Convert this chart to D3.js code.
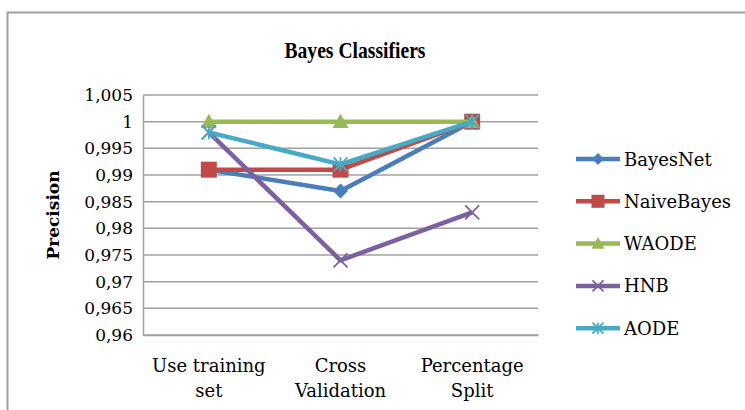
<!DOCTYPE html>
<html>
<head>
<meta charset="utf-8">
<script src="https://cdn.jsdelivr.net/npm/d3@7"></script>
<style>
  html, body { margin: 0; padding: 0; background: #fff; }
  svg { display: block; }
</style>
</head>
<body>
<svg id="chart" width="745" height="410"></svg>
<script>
// Precision of Bayes classifiers under three test modes
const categories = [["Use training", "set"], ["Cross", "Validation"], ["Percentage", "Split"]];
const seriesNames = ["BayesNet", "NaiveBayes", "WAODE", "HNB", "AODE"];
const bayesNet   = [0.991, 0.987, 1.000];
const naiveBayes = [0.991, 0.991, 1.000];
const waode      = [1.000, 1.000, 1.000];
const hnb        = [0.998, 0.974, 0.983];
const aode       = [0.998, 0.992, 1.000];
const yTicks = [0.96, 0.965, 0.97, 0.975, 0.98, 0.985, 0.99, 0.995, 1, 1.005];

const seriesValues = [bayesNet, naiveBayes, waode, hnb, aode];
const colors  = ["#4A7EBB", "#BE4B48", "#98B954", "#7D60A0", "#46AAC5"];
const symbols = ["diamond", "square", "triangle", "x", "star"];

const svg = d3.select("#chart");
const plot = { left: 143, right: 538, top: 95, bottom: 335 };
const serif = "'DejaVu Serif', serif";

// chart frame
svg.append("rect")
  .attr("x", 7.5).attr("y", 12.5).attr("width", 800).attr("height", 500)
  .attr("fill", "none").attr("stroke", "#A0A0A0").attr("stroke-width", 2);

// title
svg.append("text")
  .attr("x", 355).attr("y", 58)
  .attr("text-anchor", "middle")
  .attr("font-family", "'Liberation Serif', serif")
  .attr("font-weight", "bold")
  .attr("font-size", 24)
  .attr("textLength", 141)
  .attr("lengthAdjust", "spacingAndGlyphs")
  .attr("fill", "#000")
  .text("Bayes Classifiers");

const x = d3.scaleBand().domain(d3.range(categories.length))
  .range([plot.left, plot.right]);
const y = d3.scaleLinear().domain([0.96, 1.005]).range([plot.bottom, plot.top]);

// horizontal gridlines
svg.append("g").selectAll("line").data(yTicks).join("line")
  .attr("x1", plot.left).attr("x2", plot.right)
  .attr("y1", d => y(d)).attr("y2", d => y(d))
  .attr("stroke", "#A0A0A0").attr("stroke-width", 1.5);

// y axis
const fmt = d => d3.format("")(+d.toFixed(3)).replace(".", ",");
const yAxis = svg.append("g")
  .attr("transform", `translate(${plot.left},0)`)
  .call(d3.axisLeft(y).tickValues(yTicks).tickSize(0).tickPadding(10).tickFormat(fmt));
yAxis.select(".domain").attr("stroke", "#A0A0A0").attr("stroke-width", 1.5);
yAxis.selectAll("text")
  .attr("font-family", serif).attr("font-size", 17).attr("fill", "#000");

// x axis
const xAxis = svg.append("g")
  .attr("transform", `translate(0,${plot.bottom})`)
  .call(d3.axisBottom(x).tickSize(0).tickFormat(() => ""));
xAxis.select(".domain").attr("stroke", "#A0A0A0").attr("stroke-width", 1.5);
xAxis.selectAll(".tick text").each(function(d) {
  const t = d3.select(this)
    .attr("font-family", serif).attr("font-size", 18).attr("fill", "#000")
    .attr("y", 0).attr("dy", null);
  categories[d].forEach((line, i) => {
    t.append("tspan").attr("x", 0).attr("y", 37 + i * 25).text(line);
  });
});

// y axis title
svg.append("text")
  .attr("transform", "translate(59,215) rotate(-90)")
  .attr("text-anchor", "middle")
  .attr("font-family", serif).attr("font-weight", "bold").attr("font-size", 17)
  .attr("fill", "#000")
  .text("Precision");

// marker shapes
function marker(sel, type, color, size) {
  const s = size / 2;
  if (type === "diamond") {
    sel.append("path").attr("d", `M0,${-s}L${s},0L0,${s}L${-s},0Z`).attr("fill", color);
  } else if (type === "square") {
    sel.append("rect").attr("x", -s).attr("y", -s).attr("width", size).attr("height", size).attr("fill", color);
  } else if (type === "triangle") {
    sel.append("path").attr("d", `M0,${-s}L${s},${s * 0.8}L${-s},${s * 0.8}Z`).attr("fill", color);
  } else if (type === "x") {
    sel.append("path").attr("d", `M${-s},${-s}L${s},${s}M${s},${-s}L${-s},${s}`)
      .attr("stroke", color).attr("stroke-width", 1.8).attr("fill", "none");
  } else if (type === "star") {
    sel.append("path")
      .attr("d", `M${-s},${-s}L${s},${s}M${s},${-s}L${-s},${s}M0,${-s}L0,${s}`)
      .attr("stroke", color).attr("stroke-width", 1.8).attr("fill", "none");
  }
}

const line = d3.line().x((d, i) => x(i) + x.bandwidth() / 2).y(d => y(d));
const sizes = [15, 16, 16, 14, 14];

seriesValues.forEach((vals, k) => {
  const g = svg.append("g");
  g.append("path").datum(vals).attr("d", line)
    .attr("fill", "none").attr("stroke", colors[k]).attr("stroke-width", 4.5)
    .attr("stroke-linejoin", "round");
  g.selectAll("g.pt").data(vals).join("g").attr("class", "pt")
    .attr("transform", (d, i) => `translate(${x(i) + x.bandwidth() / 2},${y(d)})`)
    .each(function() { marker(d3.select(this), symbols[k], colors[k], sizes[k]); });
});

// legend
const legend = svg.append("g");
seriesNames.forEach((name, k) => {
  const ly = 159 + k * 42.3;
  const row = legend.append("g").attr("transform", `translate(576,${ly})`);
  row.append("line").attr("x1", 0).attr("x2", 44).attr("y1", 0).attr("y2", 0)
    .attr("stroke", colors[k]).attr("stroke-width", 4.5);
  const m = row.append("g").attr("transform", "translate(22,0)");
  marker(m, symbols[k], colors[k], sizes[k] - 3);
  row.append("text").attr("x", 48).attr("y", 6.5)
    .attr("font-family", serif).attr("font-size", 18).attr("fill", "#000")
    .text(name);
});
</script>
</body>
</html>
